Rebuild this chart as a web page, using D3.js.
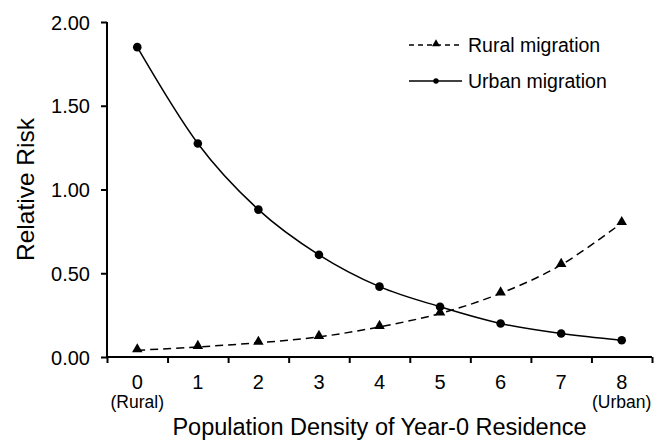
<!DOCTYPE html>
<html>
<head>
<meta charset="utf-8">
<script src="https://cdn.jsdelivr.net/npm/d3@7"></script>
<style>
  body { margin: 0; background: #fff; }
  text { font-family: "Liberation Sans", Arial, sans-serif; fill: #000; }
</style>
</head>
<body>
<div id="chart"></div>
<script>
var WIDTH = 663;
var HEIGHT = 442;

// data
var densities = [0, 1, 2, 3, 4, 5, 6, 7, 8];
var ruralRisk = [0.04, 0.06, 0.085, 0.12, 0.18, 0.26, 0.38, 0.55, 0.80];
var urbanRisk = [1.85, 1.275, 0.88, 0.61, 0.42, 0.30, 0.20, 0.14, 0.10];
var yTicks = [0, 0.5, 1.0, 1.5, 2.0];
var endLabels = { 0: "(Rural)", 8: "(Urban)" };
var seriesNames = ["Rural migration", "Urban migration"];

var svg = d3.select("#chart").append("svg")
            .attr("width", WIDTH)
            .attr("height", HEIGHT);

var x = d3.scaleLinear().domain([-0.5, 8.5]).range([107, 652]);
var y = d3.scaleLinear().domain([0, 2]).range([357, 22]);

// y axis
var yAxis = svg.append("g")
               .attr("transform", "translate(" + x(-0.5) + ",0)")
               .call(d3.axisLeft(y)
                       .tickValues(yTicks)
                       .tickFormat(d3.format(".2f"))
                       .tickSize(6)
                       .tickPadding(11));
yAxis.selectAll("text").style("font-size", "20px").attr("dy", "0.36em");

// x axis, ticks sit between the categories
var edges = densities.map(function(d) { return d - 0.5; }).concat([8.5]);
var xAxis = svg.append("g")
               .attr("transform", "translate(0," + y(0) + ")")
               .call(d3.axisBottom(x)
                       .tickValues(edges)
                       .tickFormat("")
                       .tickSize(6));
svg.selectAll(".domain").attr("stroke", "#000").attr("stroke-width", 2);
svg.selectAll(".tick line").attr("stroke", "#000").attr("stroke-width", 2);
xAxis.select(".domain").attr("d", "M" + x(-0.5) + ",0H" + x(8.5));
yAxis.select(".domain").attr("d", "M0," + y(2) + "V" + y(0));

svg.selectAll(".xlab")
   .data(densities)
   .enter().append("text")
   .attr("class", "xlab")
   .attr("x", function(d) { return x(d); })
   .attr("y", 389)
   .attr("text-anchor", "middle")
   .style("font-size", "20px")
   .text(function(d) { return d; });

svg.selectAll(".xsub")
   .data(Object.keys(endLabels))
   .enter().append("text")
   .attr("class", "xsub")
   .attr("x", function(d) { return x(+d); })
   .attr("y", 408)
   .attr("text-anchor", "middle")
   .style("font-size", "17.5px")
   .text(function(d) { return endLabels[d]; });

svg.append("text")
   .attr("x", (x(-0.5) + x(8.5)) / 2)
   .attr("y", 435)
   .attr("text-anchor", "middle")
   .style("font-size", "23.5px")
   .text("Population Density of Year-0 Residence");

svg.append("text")
   .attr("transform", "translate(34," + (y(0) + y(2)) / 2 + ") rotate(-90)")
   .attr("text-anchor", "middle")
   .style("font-size", "24.5px")
   .text("Relative Risk");

// lines
var line = d3.line()
             .x(function(d, i) { return x(densities[i]); })
             .y(function(d) { return y(d); })
             .curve(d3.curveCardinal.tension(0));

svg.append("path")
   .datum(ruralRisk)
   .attr("d", line)
   .attr("fill", "none")
   .attr("stroke", "#000")
   .attr("stroke-width", 1.5)
   .attr("stroke-dasharray", "8,5");

svg.append("path")
   .datum(urbanRisk)
   .attr("d", line)
   .attr("fill", "none")
   .attr("stroke", "#000")
   .attr("stroke-width", 1.5);

var tri = d3.symbol().type(d3.symbolTriangle).size(48);

svg.selectAll(".rural")
   .data(ruralRisk)
   .enter().append("path")
   .attr("class", "rural")
   .attr("d", tri)
   .attr("transform", function(d, i) { return "translate(" + x(densities[i]) + "," + (y(d) - 1) + ")"; })
   .attr("fill", "#000");

svg.selectAll(".urban")
   .data(urbanRisk)
   .enter().append("circle")
   .attr("class", "urban")
   .attr("cx", function(d, i) { return x(densities[i]); })
   .attr("cy", function(d) { return y(d); })
   .attr("r", 4.3)
   .attr("fill", "#000");

// legend
var legend = svg.append("g");
var legendRows = [
    { name: seriesNames[0], y: 45, dash: "5,4", marker: "tri" },
    { name: seriesNames[1], y: 81, dash: null, marker: "circle" }
];
legendRows.forEach(function(r) {
    legend.append("line")
          .attr("x1", 409).attr("x2", 462)
          .attr("y1", r.y).attr("y2", r.y)
          .attr("stroke", "#000")
          .attr("stroke-width", 1.3)
          .attr("stroke-dasharray", r.dash);
    if (r.marker == "tri") {
        legend.append("path")
              .attr("d", d3.symbol().type(d3.symbolTriangle).size(28)())
              .attr("transform", "translate(436," + (r.y - 1) + ")");
    } else {
        legend.append("circle")
              .attr("cx", 436).attr("cy", r.y).attr("r", 2.7);
    }
    legend.append("text")
          .attr("x", 468)
          .attr("y", r.y)
          .attr("dy", "0.36em")
          .style("font-size", "19.5px")
          .text(r.name);
});
</script>
</body>
</html>
